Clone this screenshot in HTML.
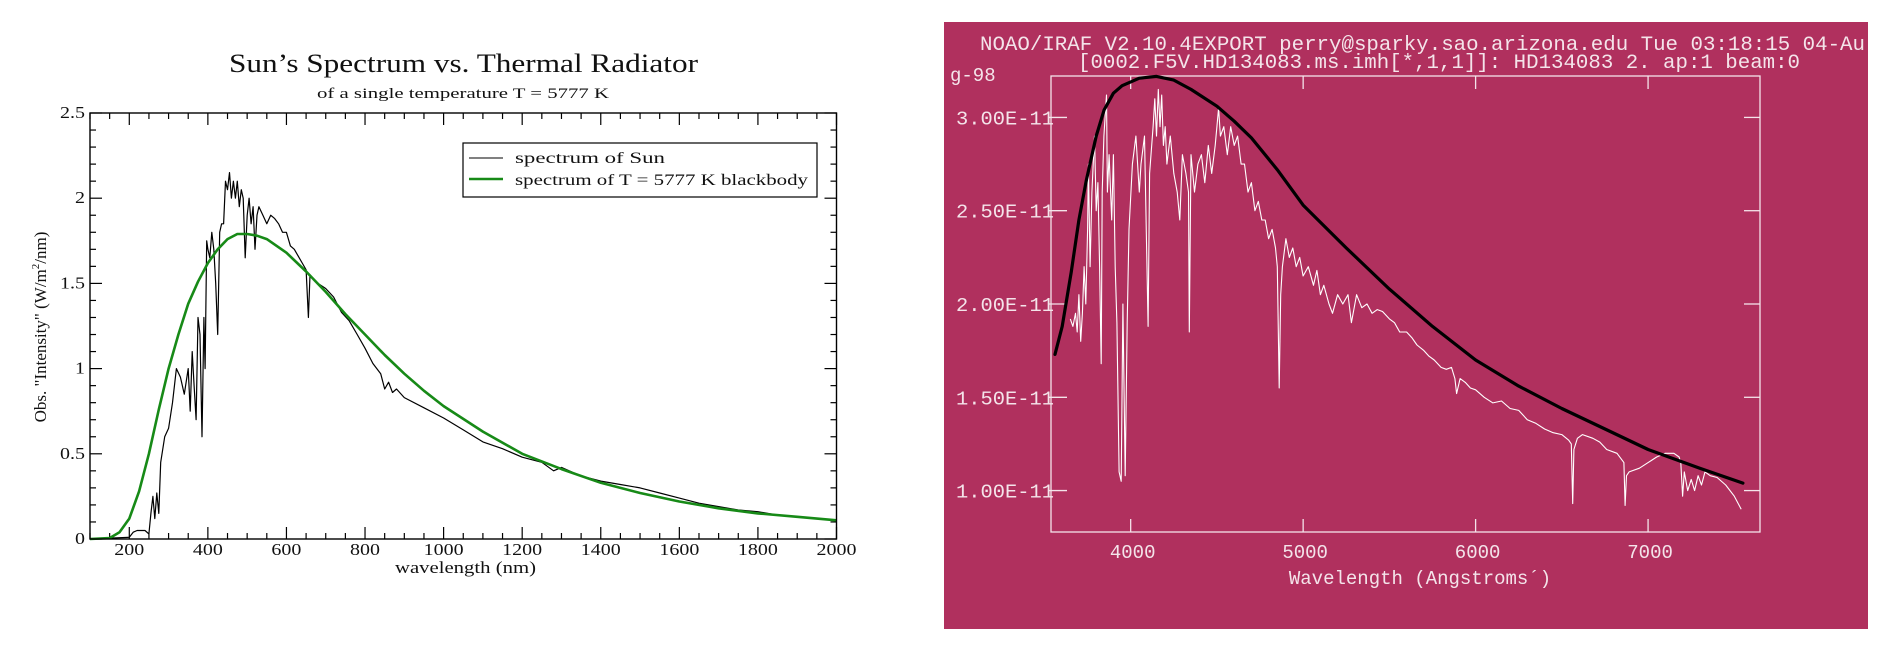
<!DOCTYPE html>
<html><head><meta charset="utf-8"><style>
html,body{margin:0;padding:0;background:#fff;width:1884px;height:654px;overflow:hidden}
svg{display:block}
</style></head><body>
<svg id="root" width="1884" height="654" xmlns="http://www.w3.org/2000/svg">
<rect x="944" y="22" width="924" height="607" fill="#B0305E"/>
<g id="left"></g>
<g id="right"></g>
</svg>
<script>
// ---------- Left chart data ----------
const sunWl = [100,200,210,220,240,250,255,260,265,270,275,280,290,300,310,320,330,340,350,355,360,365,370,375,380,385,390,393,397,400,405,410,415,420,425,430,435,440,445,450,455,460,465,470,475,480,485,490,495,500,505,510,515,520,525,530,540,550,560,570,580,590,600,610,620,630,640,650,656,660,670,680,700,720,740,760,780,800,820,840,850,860,870,880,900,950,1000,1050,1100,1150,1200,1250,1280,1300,1350,1400,1450,1500,1550,1600,1650,1700,1750,1800,1850,1900,1950,2000];
const sunVal = [0,0.01,0.04,0.05,0.05,0.03,0.15,0.25,0.12,0.27,0.15,0.45,0.6,0.65,0.8,1.0,0.95,0.85,1.0,0.75,1.1,0.9,0.7,1.3,1.2,0.6,1.3,1.0,1.75,1.7,1.65,1.8,1.7,1.5,1.2,1.8,1.85,1.85,2.1,2.05,2.15,2.0,2.1,2.0,2.1,1.95,2.05,2.0,1.65,1.9,2.0,1.85,1.95,1.7,1.9,1.95,1.9,1.85,1.9,1.88,1.85,1.8,1.8,1.72,1.7,1.66,1.62,1.58,1.3,1.55,1.52,1.5,1.47,1.42,1.33,1.28,1.2,1.12,1.03,0.97,0.88,0.92,0.86,0.88,0.83,0.77,0.71,0.64,0.57,0.53,0.48,0.45,0.4,0.42,0.37,0.34,0.32,0.3,0.27,0.24,0.21,0.19,0.17,0.16,0.14,0.13,0.12,0.11];
const bbWl = [100,150,175,200,225,250,275,300,325,350,375,400,425,450,475,500,525,550,600,650,700,750,800,850,900,950,1000,1100,1200,1300,1400,1500,1600,1700,1800,1900,2000];
const bbVal = [0,0.005,0.04,0.12,0.28,0.5,0.76,1.0,1.2,1.38,1.51,1.62,1.7,1.76,1.79,1.79,1.78,1.76,1.68,1.57,1.45,1.32,1.2,1.08,0.97,0.87,0.78,0.63,0.5,0.41,0.33,0.27,0.22,0.18,0.15,0.13,0.11];
const lxTicks = [200,400,600,800,1000,1200,1400,1600,1800,2000];
const lyTicks = [0,0.5,1,1.5,2,2.5];
const lyLabels = ["0","0.5","1","1.5","2","2.5"];

// ---------- Right chart data ----------
const irWl = [3650,3665,3680,3690,3700,3710,3720,3730,3740,3750,3755,3765,3775,3790,3800,3810,3820,3829,3835,3845,3860,3865,3875,3890,3900,3910,3920,3933,3945,3955,3968,3980,3990,4010,4030,4050,4060,4080,4101,4110,4130,4140,4150,4160,4170,4180,4190,4200,4210,4230,4250,4270,4285,4300,4320,4335,4340,4350,4370,4390,4410,4430,4450,4470,4490,4510,4520,4540,4560,4580,4600,4620,4640,4660,4680,4700,4720,4740,4760,4780,4800,4820,4840,4850,4861,4870,4880,4900,4920,4940,4960,4980,5000,5030,5060,5080,5100,5120,5150,5170,5200,5230,5260,5280,5310,5340,5370,5400,5430,5460,5500,5530,5560,5600,5630,5660,5700,5730,5760,5800,5830,5860,5880,5890,5910,5940,5970,6000,6050,6100,6150,6200,6250,6300,6350,6400,6450,6500,6540,6555,6563,6570,6590,6620,6680,6720,6760,6820,6860,6867,6875,6890,6950,7000,7050,7100,7150,7180,7190,7200,7210,7230,7250,7270,7290,7310,7330,7360,7400,7450,7500,7540];
const irVal = [1.92,1.88,1.95,1.85,2.05,1.8,1.95,2.2,2.0,2.4,2.75,2.2,2.6,2.9,2.5,2.65,2.2,1.68,2.6,2.9,3.12,2.6,2.8,2.45,2.8,2.2,1.9,1.1,1.05,2.0,1.08,1.9,2.4,2.75,2.9,2.6,2.75,2.9,1.88,2.7,2.95,3.1,2.9,3.15,2.95,3.12,2.85,2.95,2.75,2.9,2.7,2.6,2.45,2.8,2.7,2.6,1.85,2.8,2.6,2.75,2.8,2.65,2.85,2.7,2.85,3.05,2.9,2.95,2.8,2.95,2.85,2.9,2.75,2.75,2.6,2.65,2.5,2.55,2.45,2.45,2.35,2.4,2.3,2.2,1.55,2.05,2.2,2.35,2.25,2.3,2.2,2.25,2.15,2.2,2.1,2.18,2.05,2.1,2.0,1.95,2.05,2.0,2.05,1.9,2.05,1.98,2.0,1.95,1.97,1.96,1.92,1.9,1.85,1.85,1.82,1.78,1.75,1.72,1.7,1.66,1.65,1.66,1.6,1.52,1.6,1.58,1.55,1.54,1.5,1.47,1.48,1.44,1.43,1.38,1.36,1.33,1.31,1.3,1.27,1.25,0.93,1.22,1.28,1.3,1.28,1.26,1.22,1.2,1.15,0.92,1.08,1.1,1.12,1.15,1.18,1.2,1.2,1.18,1.15,0.97,1.1,1.0,1.06,1.0,1.08,1.03,1.1,1.08,1.07,1.03,0.97,0.9,0.84];
const irBbWl = [3561,3603,3655,3700,3742,3800,3846,3900,3950,4050,4150,4250,4350,4500,4600,4700,4850,5000,5250,5500,5750,6000,6250,6500,6750,7000,7300,7550];
const irBbVal = [1.73,1.88,2.17,2.45,2.66,2.9,3.04,3.13,3.17,3.21,3.22,3.2,3.15,3.06,2.98,2.89,2.72,2.53,2.3,2.08,1.88,1.70,1.56,1.44,1.33,1.22,1.12,1.04];
const rxTicks = [4000,5000,6000,7000];
const ryTicks = [1.0,1.5,2.0,2.5,3.0];
const ryLabels = ["1.00E-11","1.50E-11","2.00E-11","2.50E-11","3.00E-11"];

const NS = "http://www.w3.org/2000/svg";
function mk(parent, tag, attrs, text){
  const e = document.createElementNS(NS, tag);
  for (const k in attrs) e.setAttribute(k, attrs[k]);
  if (text !== undefined) e.textContent = text;
  parent.appendChild(e);
  return e;
}
function pathFrom(xs, ys, fx, fy){
  let d = "";
  for (let i=0;i<xs.length;i++) d += (i? "L":"M") + fx(xs[i]).toFixed(1) + "," + fy(ys[i]).toFixed(1);
  return d;
}
function labW(s){ let w=0; for (const c of s) w += (c==='.')?5:10; return w; }

// ---------- Left chart ----------
(function(){
  const g = document.getElementById('left');
  const X0=90, X1=836.5, Y0=113, Y1=539;
  const xs = v => X0 + (v-100)/(2000-100)*(X1-X0);
  const ys = v => Y1 - v/2.5*(Y1-Y0);
  const serif = '"Liberation Serif", serif';
  const LA = 'spacingAndGlyphs';
  let t;
  t = mk(g,'text',{x:229,y:72,'font-family':serif,'font-size':26,fill:'#111',textLength:469,lengthAdjust:LA},"Sun\u2019s Spectrum vs. Thermal Radiator");
   
  t = mk(g,'text',{x:317,y:98,'font-family':serif,'font-size':15,fill:'#111',textLength:292,lengthAdjust:LA},"of a single temperature T = 5777 K");
   
  const tg = mk(g,'g',{stroke:'#000','stroke-width':1.2});
   
  for (let v=100; v<=2000; v+=50){
    const major = v%200===0; const L = major?12:6; const x=xs(v);
    mk(tg,'line',{x1:x,y1:Y1,x2:x,y2:Y1-L});
    mk(tg,'line',{x1:x,y1:Y0,x2:x,y2:Y0+L});
  }
  for (let i=0;i<=25;i++){
    const v=i/10; const major = i%5===0; const L = major?12:6; const y=ys(v);
    mk(tg,'line',{x1:X0,y1:y,x2:X0+L,y2:y});
    mk(tg,'line',{x1:X1,y1:y,x2:X1-L,y2:y});
  }
  lxTicks.forEach(v=>{
    const s=String(v), w=labW(s);
    const e = mk(g,'text',{x:xs(v)-w/2,y:555,'font-family':serif,'font-size':17,fill:'#111',textLength:w,lengthAdjust:LA},s);
     
  });
  lyTicks.forEach((v,i)=>{
    const s=lyLabels[i], w=labW(s);
    const e = mk(g,'text',{x:85-w,y:ys(v)+5,'font-family':serif,'font-size':17,fill:'#111',textLength:w,lengthAdjust:LA},s);
     
  });
  t = mk(g,'text',{x:395,y:573,'font-family':serif,'font-size':17,fill:'#111',textLength:141,lengthAdjust:LA},"wavelength (nm)");
   
  t = mk(g,'text',{x:0,y:0,'font-family':serif,'font-size':17,'text-anchor':'middle',fill:'#111',transform:'translate(46,327) rotate(-90)'});
   
  t.innerHTML = 'Obs. "Intensity" (W/m<tspan dy="-7" font-size="11">2</tspan><tspan dy="7">/nm)</tspan>';
  let p = mk(g,'path',{d:pathFrom(sunWl,sunVal,xs,ys),fill:'none',stroke:'#000','stroke-width':1.2,'stroke-linejoin':'round'});
   
  p = mk(g,'path',{d:pathFrom(bbWl,bbVal,xs,ys),fill:'none',stroke:'#178a17','stroke-width':2.6,'stroke-linejoin':'round'});
   
  const fr = mk(g,'rect',{x:X0,y:Y0,width:X1-X0,height:Y1-Y0,fill:'none',stroke:'#000','stroke-width':1.4});
   
  const lg = mk(g,'g',{});
   
  mk(lg,'rect',{x:463,y:143,width:354,height:54,fill:'#fff',stroke:'#000','stroke-width':1.2});
  mk(lg,'line',{x1:469,y1:158,x2:503,y2:158,stroke:'#000','stroke-width':1.1});
  let le = mk(lg,'text',{x:515,y:163,'font-family':serif,'font-size':16,fill:'#111',textLength:150,lengthAdjust:LA},"spectrum of Sun");
   
  mk(lg,'line',{x1:469,y1:179,x2:503,y2:179,stroke:'#178a17','stroke-width':2.6});
  le = mk(lg,'text',{x:515,y:185,'font-family':serif,'font-size':16,fill:'#111',textLength:293,lengthAdjust:LA},"spectrum of T = 5777 K blackbody");
   
})();

// ---------- Right chart ----------
(function(){
  const g = document.getElementById('right');
  const X0=1051, X1=1760, Y0=76, Y1=532;
  const xs = v => X0 + (v-3538)/(7649-3538)*(X1-X0);
  const ys = v => Y1 - (v-0.778)/(3.222-0.778)*(Y1-Y0);
  const mono = '"Liberation Mono", monospace';
  const tc = '#f4e4ea';
  let t;
  t = mk(g,'text',{x:980,y:50,'font-family':mono,'font-size':20.5,fill:tc,textLength:885,lengthAdjust:'spacingAndGlyphs'},"NOAO/IRAF V2.10.4EXPORT perry@sparky.sao.arizona.edu Tue 03:18:15 04-Au");
   
  t = mk(g,'text',{x:1078,y:68,'font-family':mono,'font-size':20.5,fill:tc,textLength:722,lengthAdjust:'spacingAndGlyphs'},"[0002.F5V.HD134083.ms.imh[*,1,1]]: HD134083 2. ap:1 beam:0");
   
  t = mk(g,'text',{x:950,y:81,'font-family':mono,'font-size':19,fill:tc},"g-98");
   
  const tg = mk(g,'g',{stroke:tc,'stroke-width':1.3});
   
  rxTicks.forEach(v=>{
    const x=xs(v);
    mk(tg,'line',{x1:x,y1:Y1,x2:x,y2:Y1-13});
    mk(tg,'line',{x1:x,y1:Y0,x2:x,y2:Y0+13});
    const e = mk(g,'text',{x:x+2,y:558,'font-family':mono,'font-size':19,'text-anchor':'middle',fill:tc},String(v));
     
  });
  ryTicks.forEach((v,i)=>{
    const y=ys(v);
    mk(tg,'line',{x1:X0-2,y1:y,x2:X0+16,y2:y});
    mk(tg,'line',{x1:X1,y1:y,x2:X1-16,y2:y});
    const e = mk(g,'text',{x:1054,y:y+7,'font-family':mono,'font-size':19,'text-anchor':'end',fill:tc,textLength:98,lengthAdjust:'spacingAndGlyphs'},ryLabels[i]);
     
  });
  t = mk(g,'text',{x:1420,y:584,'font-family':mono,'font-size':19,'text-anchor':'middle',fill:tc},"Wavelength (Angstroms\u00b4)");
   
  const fr = mk(g,'rect',{x:X0,y:Y0,width:X1-X0,height:Y1-Y0,fill:'none',stroke:tc,'stroke-width':1.3});
   
  let p = mk(g,'path',{d:pathFrom(irWl,irVal,xs,ys),fill:'none',stroke:'#fff','stroke-width':1.1,'stroke-linejoin':'round'});
   
  p = mk(g,'path',{d:pathFrom(irBbWl,irBbVal,xs,ys),fill:'none',stroke:'#000','stroke-width':3.2,'stroke-linejoin':'round','stroke-linecap':'round'});
   
})();
</script>
</body></html>
